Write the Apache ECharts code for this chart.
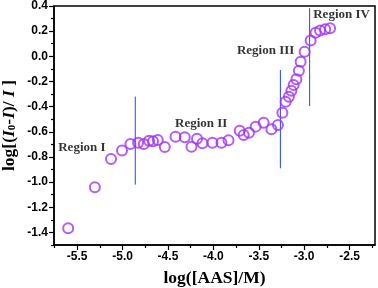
<!DOCTYPE html>
<html>
<head>
<meta charset="utf-8">
<script src="https://cdn.jsdelivr.net/npm/echarts@6/dist/echarts.min.js"></script>
<style>html,body{margin:0;padding:0;background:#fff}#c{width:378px;height:288px}</style>
</head>
<body>
<div id="c"></div>
<script>
var xValues = [-5.599,-5.305,-5.127,-5.006,-4.913,-4.829,-4.766,-4.708,-4.664,-4.612,-4.535,-4.417,-4.315,-4.241,-4.180,-4.120,-4.010,-3.911,-3.833,-3.710,-3.666,-3.608,-3.534,-3.446,-3.361,-3.289,-3.240,-3.204,-3.168,-3.141,-3.116,-3.086,-3.058,-3.039,-2.995,-2.929,-2.874,-2.825,-2.769,-2.715];
var yValues = [-1.367,-1.041,-0.816,-0.749,-0.697,-0.687,-0.697,-0.671,-0.676,-0.665,-0.721,-0.639,-0.644,-0.718,-0.655,-0.691,-0.687,-0.687,-0.668,-0.591,-0.625,-0.607,-0.559,-0.528,-0.580,-0.546,-0.448,-0.361,-0.321,-0.273,-0.228,-0.183,-0.114,-0.043,0.037,0.126,0.188,0.205,0.215,0.223];
var regionNames = ['Region I','Region II','Region III','Region IV'];
var regionX = [-5.448,-4.134,-3.424,-2.588];
var regionY = [-0.726,-0.532,0.045,0.328];
var dividerX = [-4.86,-3.262,-2.94];
var dividerTop = [-0.32,-0.109,0.382];
var dividerBottom = [-1.02,-0.89,-0.395];
var xMajorTicks = [-5.5,-5.0,-4.5,-4.0,-3.5,-3.0,-2.5];
var xMinorTicks = [-5.75,-5.25,-4.75,-4.25,-3.75,-3.25,-2.75,-2.25];
var yMajorTicks = [-1.4,-1.2,-1.0,-0.8,-0.6,-0.4,-0.2,0.0,0.2,0.4];
var yMinorTicks = [-1.5,-1.3,-1.1,-0.9,-0.7,-0.5,-0.3,-0.1,0.1,0.3];
var xMin = -5.755, xMax = -2.22, yMin = -1.5, yMax = 0.4;

var points = xValues.map(function(x,i){return [x,yValues[i]];});
var regions = regionNames.map(function(n,i){return {name:n,value:[regionX[i],regionY[i]]};});

var tickFont = {fontFamily:'Liberation Sans',fontWeight:'bold',fontSize:12,color:'#000'};
var series = [{
  type:'scatter', data:points, symbol:'circle', symbolSize:10,
  itemStyle:{color:'rgba(0,0,0,0)',borderColor:'#a033f5',borderWidth:2}, z:3
},{
  type:'scatter', data:regions, symbolSize:0, silent:true,
  label:{show:true,position:'inside',formatter:function(p){return p.name;},fontFamily:'Liberation Serif',fontWeight:'bold',fontSize:13,color:'#000'}, z:4
}];
dividerX.forEach(function(x,i){
  series.push({type:'line',data:[[x,dividerBottom[i]],[x,dividerTop[i]]],symbol:'none',lineStyle:{color:'#2244ff',width:1},z:2,silent:true});
});

var chart = echarts.init(document.getElementById('c'),null,{renderer:'canvas'});
chart.setOption({
  animation:false,
  grid:{left:54,right:3,top:6,bottom:43,containLabel:false,outerBoundsMode:'none',show:true,borderColor:'#000',borderWidth:1.5,backgroundColor:'transparent'},
  xAxis:[{
    type:'value',min:xMin,max:xMax,position:'bottom',
    name:'log([AAS]/M)',nameLocation:'middle',nameGap:24,nameMoveOverlap:false,
    nameTextStyle:{fontFamily:'Liberation Serif',fontWeight:'bold',fontSize:17.5,color:'#000'},
    axisLine:{show:true,onZero:false,lineStyle:{color:'#000',width:1.5}},
    axisTick:{show:true,inside:false,length:5,lineStyle:{color:'#000',width:1.2},customValues:xMajorTicks},
    axisLabel:Object.assign({customValues:xMajorTicks,margin:6,formatter:function(v){return v.toFixed(1);}},tickFont),
    splitLine:{show:false}
  },{
    type:'value',min:xMin,max:xMax,position:'bottom',
    axisLine:{show:false,onZero:false},
    axisTick:{show:true,inside:false,length:3,lineStyle:{color:'#000',width:1.2},customValues:xMinorTicks},
    axisLabel:{show:false},splitLine:{show:false}
  }],
  yAxis:[{
    type:'value',min:yMin,max:yMax,position:'left',
    name:'{a|log[(}{i|I}{s|0}{a|-}{i|I}{a|)/ }{i|I}{a| ]}',nameLocation:'middle',nameGap:36,nameRotate:90,nameMoveOverlap:false,
    nameTextStyle:{verticalAlign:'bottom',rich:{
      a:{fontFamily:'Liberation Serif',fontWeight:'bold',fontSize:17.5,color:'#000',lineHeight:18},
      i:{fontFamily:'Liberation Serif',fontWeight:'bold',fontStyle:'italic',fontSize:17.5,color:'#000',lineHeight:18},
      s:{fontFamily:'Liberation Serif',fontWeight:'bold',fontSize:11,color:'#000',lineHeight:18,verticalAlign:'bottom'}
    }},
    axisLine:{show:true,onZero:false,lineStyle:{color:'#000',width:1.5}},
    axisTick:{show:true,inside:false,length:5,lineStyle:{color:'#000',width:1.2},customValues:yMajorTicks},
    axisLabel:Object.assign({customValues:yMajorTicks,margin:6,formatter:function(v){return v.toFixed(1);}},tickFont),
    splitLine:{show:false}
  },{
    type:'value',min:yMin,max:yMax,position:'left',
    axisLine:{show:false,onZero:false},
    axisTick:{show:true,inside:false,length:3,lineStyle:{color:'#000',width:1.2},customValues:yMinorTicks},
    axisLabel:{show:false},splitLine:{show:false}
  }],
  series:series
});
</script>
</body>
</html>
